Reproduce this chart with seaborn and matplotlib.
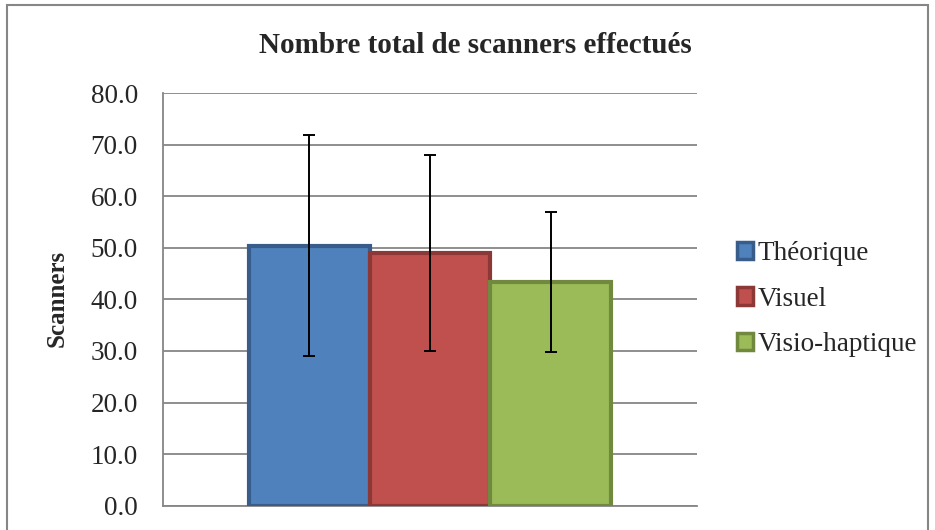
import matplotlib
matplotlib.use("Agg")
import matplotlib.pyplot as plt
import seaborn as sns
import pandas as pd
from matplotlib.patches import Patch, Rectangle

# Data
categories = ["Théorique", "Visuel", "Visio-haptique"]
means = [50.4, 49.0, 43.4]
errors = [21.4, 19.0, 13.6]
yticks = [0, 10, 20, 30, 40, 50, 60, 70, 80]
title = "Nombre total de scanners effectués"
ylabel = "Scanners"

fills = ["#4F81BD", "#C0504D", "#9BBB59"]
edges = ["#385D8A", "#8C3836", "#71893F"]

sns.set_style("white")
plt.rcParams["font.family"] = ["Liberation Serif", "DejaVu Serif"]

fig = plt.figure(figsize=(9.35, 5.30), dpi=100)
ax = fig.add_axes([163/935, 1-505.7/530, (697-163)/935, (505.7-93)/530])

df = pd.DataFrame({"cat": [""]*3, "serie": categories, "val": means})
sns.barplot(data=df, x="cat", y="val", hue="serie", hue_order=categories,
            palette=fills, width=0.678, errorbar=None, legend=False, ax=ax,
            saturation=1)

bars = [p for p in ax.patches]
for p, ec, e, m in zip(bars, edges, errors, means):
    p.set_edgecolor(ec)
    p.set_linewidth(3)
    p.set_zorder(3)
    cx = p.get_x() + p.get_width()/2
    ax.errorbar(cx, p.get_height(), yerr=e, fmt="none", ecolor="black",
                elinewidth=1.4, capsize=4, capthick=1.4, zorder=4)

ax.set_ylim(0, 80)
ax.set_xlim(-0.5, 0.5)
ax.set_yticks(yticks)
ax.set_yticklabels([f"{v:.1f}" for v in yticks], fontsize=19.5)
ax.tick_params(axis="y", length=0, pad=18)
ax.set_xticks([])
ax.set_xlabel("")
ax.set_ylabel("")
ax.yaxis.grid(True, color="#868686", linewidth=1.3)
ax.set_axisbelow(True)
for s in ["top", "right"]:
    ax.spines[s].set_visible(False)
for s in ["left", "bottom"]:
    ax.spines[s].set_color("#868686")
    ax.spines[s].set_linewidth(1.3)

fig.text(475/935, 1-53/530, title, ha="center", va="baseline",
         fontsize=21, fontweight="bold")
fig.text(57/935, 1-298/530, ylabel, ha="center", va="center",
         rotation=90, fontsize=18, fontweight="bold")

handles = [Patch(facecolor=f, edgecolor=e, linewidth=2.5) for f, e in zip(fills, edges)]
fig.legend(handles, categories, loc="center left",
           bbox_to_anchor=(737/935, 1-299/530), frameon=False, fontsize=19.5,
           handlelength=0.6, handleheight=0.6, handletextpad=0.15,
           labelspacing=0.76, borderpad=0, borderaxespad=0)

fig.patches.append(Rectangle((7/935, -0.05), (928-7)/935, 1.05-5/530,
                             transform=fig.transFigure, fill=False,
                             edgecolor="#868686", linewidth=1.5))

fig.savefig("out.png", dpi=100)
